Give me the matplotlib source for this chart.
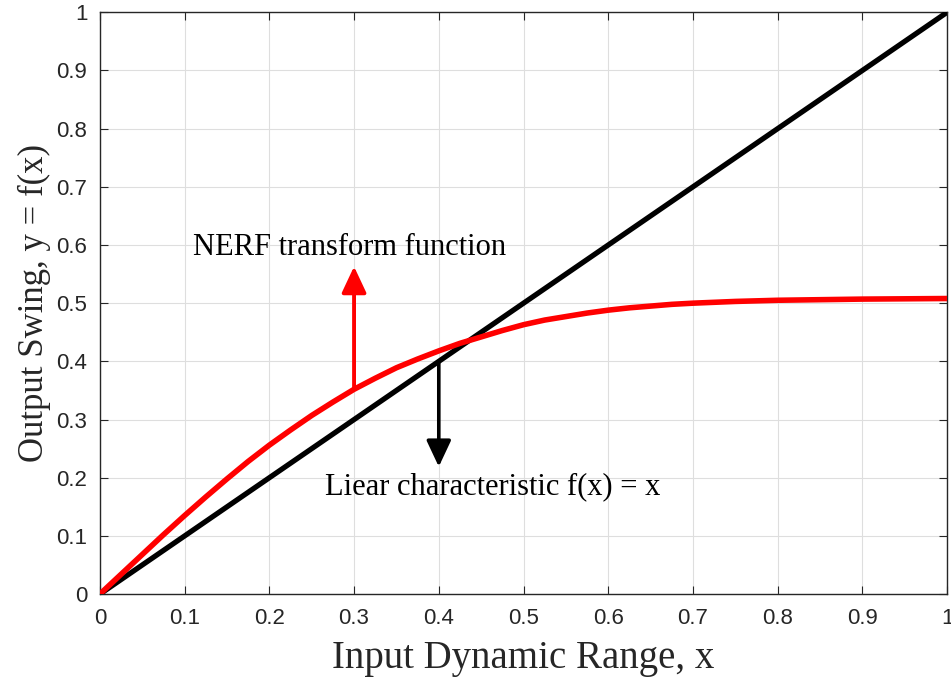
import matplotlib.pyplot as plt
from matplotlib import font_manager

# values
x_vals = [0.0, 0.025, 0.05, 0.075, 0.1, 0.125, 0.15, 0.175, 0.2, 0.225, 0.25,
          0.275, 0.3, 0.325, 0.35, 0.375, 0.4, 0.425, 0.45, 0.475, 0.5,
          0.525, 0.55, 0.575, 0.6, 0.625, 0.65, 0.675, 0.7, 0.75, 0.8,
          0.85, 0.9, 0.95, 1.0]
nerf_vals = [0.0, 0.034, 0.068, 0.102, 0.135, 0.167, 0.198, 0.228, 0.256, 0.282, 0.307,
             0.330, 0.352, 0.371, 0.389, 0.404, 0.418, 0.431, 0.442, 0.453, 0.463,
             0.471, 0.477, 0.483, 0.488, 0.492, 0.495, 0.498, 0.500, 0.503, 0.505,
             0.506, 0.507, 0.5075, 0.508]
linear_x = [0.0, 1.0]
linear_y = [0.0, 1.0]

ticks = [0, 0.1, 0.2, 0.3, 0.4, 0.5, 0.6, 0.7, 0.8, 0.9, 1]
tick_labels = ["0", "0.1", "0.2", "0.3", "0.4", "0.5", "0.6", "0.7", "0.8", "0.9", "1"]

nerf_text = "NERF transform function"
linear_text = "Liear characteristic f(x) = x"
xlabel = "Input Dynamic Range, x"
ylabel = "Output Swing, y = f(x)"

installed = {f.name for f in font_manager.fontManager.ttflist}
tick_font = "Liberation Sans Narrow" if "Liberation Sans Narrow" in installed else "Liberation Sans"
serif = "Liberation Serif"


def main() -> None:

    fig = plt.figure(figsize=(9.51, 6.79), dpi=100)
    ax = fig.add_axes([0.105, 0.125, 0.891, 0.857])

    ax.plot(linear_x, linear_y, color="black", linewidth=3.8, solid_capstyle="butt", zorder=3)
    ax.plot(x_vals, nerf_vals, color="red", linewidth=4.0,
            solid_joinstyle="round", zorder=4)

    # arrows pointing from the curves to their labels
    ax.annotate("", xy=(0.3, 0.563), xytext=(0.3, 0.352),
                arrowprops=dict(arrowstyle="-|>,head_length=1.6,head_width=0.75",
                                color="red", lw=2.8, shrinkA=0, shrinkB=0),
                zorder=5)
    ax.annotate("", xy=(0.4, 0.219), xytext=(0.4, 0.40),
                arrowprops=dict(arrowstyle="-|>,head_length=1.6,head_width=0.75",
                                color="black", lw=2.6, shrinkA=0, shrinkB=0),
                zorder=5)

    ax.text(0.295, 0.596, nerf_text, fontsize=22, family=serif,
            ha="center", va="center")
    ax.text(0.464, 0.184, linear_text, fontsize=22, family=serif,
            ha="center", va="center")

    ax.set_xlim(0, 1)
    ax.set_ylim(0, 1)
    ax.set_xticks(ticks)
    ax.set_yticks(ticks)
    ax.set_xticklabels(tick_labels, fontsize=16, family=tick_font, color="#262626")
    ax.set_yticklabels(tick_labels, fontsize=16, family=tick_font, color="#262626")
    ax.tick_params(direction="in", length=6, width=0.8, colors="#262626",
                   top=True, right=True)
    ax.tick_params(axis="x", pad=10)
    ax.tick_params(axis="y", pad=9)

    ax.grid(True, color="#dedede", linewidth=0.8)
    ax.set_axisbelow(True)
    for spine in ax.spines.values():
        spine.set_color("#262626")
        spine.set_linewidth(1.0)

    ax.set_xlabel(xlabel, fontsize=28, family=serif, color="#262626", labelpad=8)
    ax.set_ylabel(ylabel, fontsize=25, family=serif, color="#262626", labelpad=4)

    fig.savefig("out.png", dpi=100)
    plt.close(fig)


if __name__ == "__main__":
    main()
